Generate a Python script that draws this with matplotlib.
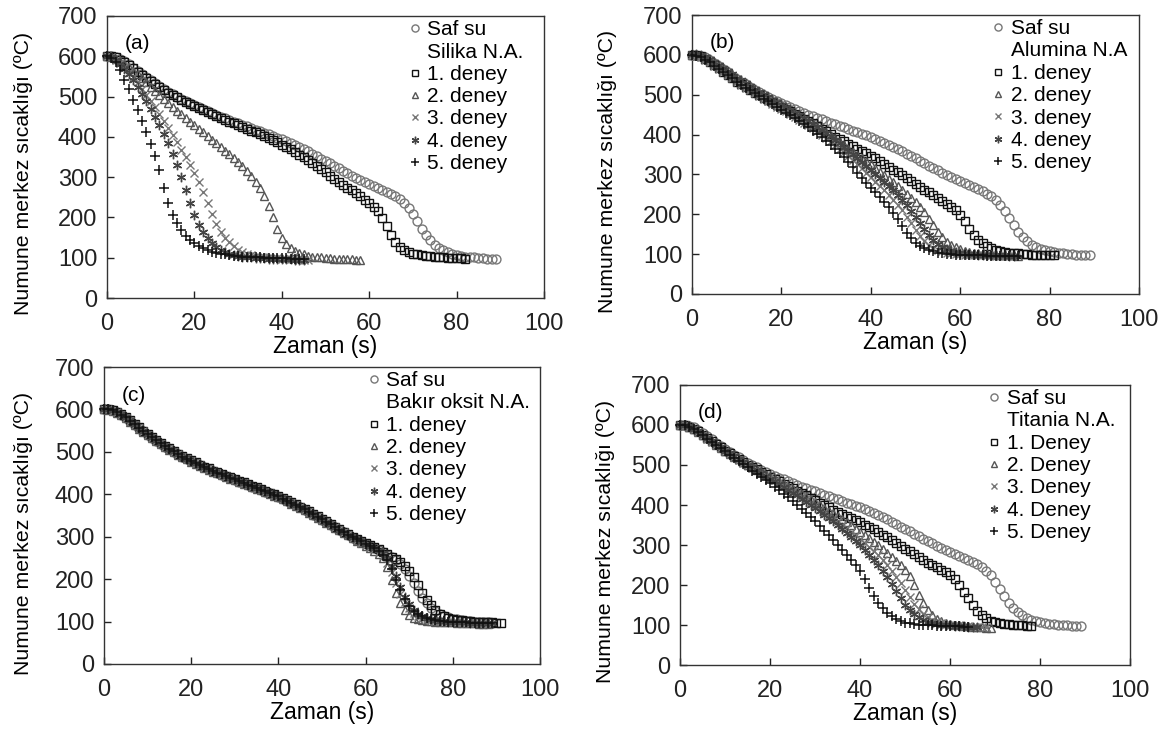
import numpy as np
import matplotlib
matplotlib.use("Agg")
import matplotlib.pyplot as plt
from matplotlib.lines import Line2D

plt.rcParams['font.family'] = ['Liberation Sans', 'DejaVu Sans']

# ---------------- data (temperature in degC, one value per second from t=0) ----------------
TIME_STEP = 1.0

SAF_SU = [600,600,598,594,588,580,572,564,556,548,
          540,533,526,519,512,506,500,494,488,483,
          478,473,468,464,459,455,450,446,442,438,
          434,430,426,422,418,414,410,406,402,398,
          394,389,384,379,374,369,364,358,352,346,
          340,334,328,322,316,310,304,298,293,288,
          283,278,273,268,263,258,252,245,236,224,
          208,190,172,156,143,132,124,118,113,110,
          107,105,103,102,101,100,99,98,98,97]

# (a) Silika N.A.
A1 = [600,600,597,592,586,578,570,562,554,546,
      538,531,524,517,510,504,498,492,486,481,
      476,471,466,461,456,452,447,443,438,434,
      429,425,420,415,411,406,401,396,391,386,
      381,375,369,363,356,349,342,335,328,320,
      312,304,296,289,281,274,267,260,252,244,
      236,227,215,198,178,157,139,126,118,113,
      110,108,106,105,104,103,102,101,100,100,
      99,99,98]
A2 = [600,598,594,588,581,573,564,555,545,535,
      525,515,505,495,485,475,465,456,447,438,
      429,420,411,402,393,384,375,366,357,347,
      337,327,316,303,289,272,252,228,200,172,
      150,134,123,116,111,108,105,103,102,101,
      100,99,98,98,97,96,96,95,94]
A3 = [600,598,592,584,574,562,549,535,520,505,
      489,473,457,440,422,404,386,368,349,330,
      310,288,262,236,208,184,165,150,138,128,
      120,114,110,107,105,103,102,101,100,99,
      98,97,96,96,95,95,94]
A4 = [600,597,590,580,568,555,540,524,507,489,
      470,450,429,407,384,358,330,300,268,236,
      206,182,163,148,136,127,120,114,110,107,
      105,103,102,101,100,99,99,98,98,97,
      97,96,96,95,95,95]
A5 = [600,595,585,565,540,520,492,466,440,413,
      382,352,318,272,235,206,185,168,155,145,
      136,129,123,118,115,112,110,108,106,105,
      104,103,102,102,101,101,100,100,100,99,
      99,99,98,98,98,98]

# (b) Alumina N.A
B1 = [600,599,596,590,583,575,566,557,549,541,
      533,526,519,512,505,499,493,487,481,475,
      470,464,458,452,446,440,434,428,421,414,
      408,401,395,389,383,377,371,365,359,353,
      347,340,333,326,319,312,305,298,291,283,
      276,269,262,255,248,241,234,227,219,210,
      198,182,164,148,136,127,120,115,111,108,
      106,104,103,102,101,100,99,99,98,98,
      97,97]
B2 = [600,599,596,591,584,577,569,561,553,545,
      537,529,522,515,508,501,494,487,481,475,
      469,463,457,451,445,439,432,425,418,411,
      404,397,389,381,373,365,357,349,341,333,
      325,316,307,298,289,280,271,262,252,242,
      231,219,205,189,172,156,142,131,123,117,
      112,109,106,104,103,102,101,100,99,98,
      98,97,97,96]
B3 = [600,598,594,588,581,573,565,557,549,541,
      533,525,518,511,504,497,490,483,476,470,
      464,458,451,444,437,430,423,416,408,400,
      392,383,374,365,356,346,336,326,315,304,
      293,282,271,260,249,237,224,210,194,177,
      160,145,133,123,116,111,107,104,102,101,
      100,99,99,98,98,97,97,97,96,96,
      96,95,95]
B4 = [602,601,599,595,589,582,575,567,559,551,
      543,536,529,522,515,508,501,494,487,481,
      475,469,462,455,448,441,434,427,420,412,
      404,396,387,378,369,360,351,342,332,322,
      312,302,292,282,271,260,248,236,223,209,
      194,178,162,147,135,125,118,113,109,106,
      104,102,101,100,99,99,98,98,97,97,
      97,96,96]
B5 = [600,598,594,588,581,573,565,557,549,541,
      533,525,518,511,504,497,490,483,476,469,
      462,455,448,441,434,426,418,410,402,393,
      384,374,364,354,343,331,318,304,290,278,
      266,255,244,232,219,204,187,170,154,140,
      129,121,115,110,107,104,102,101,100,99,
      99,98,98,97,97,97,96,96,96,96,
      95,95,95,95]

# (c) Bakir oksit N.A.
C1 = [600,600,599,595,589,582,574,566,558,550,
      542,535,528,521,514,508,502,496,490,485,
      480,475,470,465,461,456,452,448,444,440,
      436,432,428,424,420,416,412,408,404,400,
      396,391,386,381,376,371,366,360,354,348,
      342,336,330,324,318,312,306,300,295,290,
      285,280,275,270,265,260,253,247,240,232,
      220,204,186,168,152,138,127,119,113,109,
      106,104,103,102,101,100,99,99,98,98,
      97,97]
C2 = [600,599,597,592,586,579,571,563,555,547,
      539,532,525,518,511,505,499,493,487,482,
      477,472,467,462,458,453,449,445,441,437,
      433,429,425,421,417,413,409,405,401,397,
      393,388,383,378,373,368,363,357,351,345,
      339,333,327,321,315,309,303,297,291,285,
      279,273,267,260,249,228,198,168,144,127,
      116,109,105,103,102,101,100,99,99,98,
      98,97,97,96,96,96,95,95,95]
C3 = [600,600,597,593,587,580,572,564,556,548,
      540,533,526,519,512,506,500,494,488,483,
      478,473,468,463,459,454,450,446,442,438,
      434,430,426,422,418,414,410,406,402,398,
      394,389,384,379,374,369,364,358,352,346,
      340,334,328,322,316,310,304,298,292,286,
      281,276,270,263,254,239,216,190,166,146,
      131,121,114,109,106,104,102,101,100,99,
      99,98,98,97,97,96,96,96,95]
C4 = [601,601,599,595,589,582,574,566,557,549,
      541,534,527,520,513,507,501,495,489,484,
      479,474,469,464,460,455,451,447,443,439,
      435,431,427,423,419,415,411,407,403,399,
      395,390,385,380,375,370,365,359,353,347,
      341,335,329,323,317,311,305,299,294,289,
      284,279,274,268,261,250,232,207,181,159,
      141,128,119,113,109,106,104,102,101,100,
      99,99,98,98,97,97,97,96,96,96]
C5 = [600,600,598,594,588,581,573,565,557,549,
      541,534,527,520,513,507,501,495,489,484,
      479,474,469,464,460,455,451,447,443,439,
      435,431,427,423,419,415,411,407,403,399,
      395,390,385,380,375,370,365,359,353,347,
      341,335,329,323,317,311,305,299,294,289,
      284,279,273,266,257,244,224,199,174,153,
      137,125,117,112,108,105,103,102,101,100,
      99,99,98,98,97,97,97,96,96,96]

# (d) Titania N.A.
D1 = [600,599,596,591,584,576,568,560,552,544,
      536,529,522,515,508,501,495,489,483,477,
      471,465,459,453,447,442,436,430,424,418,
      412,406,400,394,388,382,377,372,367,362,
      357,351,345,339,333,326,319,312,305,298,
      291,284,277,270,263,256,250,244,238,232,
      225,214,199,183,167,150,136,125,117,111,
      107,105,103,102,101,100,99,98,97]
D2 = [600,599,596,590,583,575,567,559,551,543,
      535,528,521,514,507,500,494,488,482,476,
      470,464,458,452,446,440,434,428,421,414,
      407,400,393,386,379,372,365,357,349,341,
      333,325,317,308,299,290,281,271,261,250,
      238,222,200,176,155,138,125,116,110,106,
      103,101,99,98,97,96,95,94,93,92]
D3 = [600,599,595,589,582,574,566,558,550,542,
      534,527,520,513,506,499,493,487,481,475,
      469,463,457,450,443,436,429,422,415,407,
      399,391,383,375,367,359,351,342,333,324,
      315,305,295,285,274,262,249,235,220,204,
      187,170,153,139,128,119,113,108,105,103,
      101,100,99,98,97,96,96,95,95]
D4 = [601,600,597,591,584,576,568,560,552,544,
      536,529,522,515,508,501,494,487,480,473,
      466,459,452,445,438,431,424,416,408,400,
      392,384,376,368,359,350,341,331,321,310,
      299,288,276,263,250,236,220,203,185,167,
      151,138,127,119,113,108,105,103,101,100,
      99,98,97,97,96,96,96]
D5 = [600,599,595,589,582,574,566,558,550,542,
      534,526,518,510,502,494,486,478,470,462,
      454,446,437,428,419,410,400,390,380,370,
      360,348,336,324,312,300,288,275,262,249,
      234,214,193,173,156,142,131,122,115,110,
      106,104,102,101,100,99,99,98,98,97,
      97,97,97,96,96]

PANEL_LETTERS = ["(a)", "(b)", "(c)", "(d)"]
NANO_NAMES = ["Silika N.A.", "Alumina N.A", "Bakır oksit N.A.", "Titania N.A."]
RUN_LABELS_LOWER = ["1. deney", "2. deney", "3. deney", "4. deney", "5. deney"]
RUN_LABELS_UPPER = ["1. Deney", "2. Deney", "3. Deney", "4. Deney", "5. Deney"]
X_TICKS = [0, 20, 40, 60, 80, 100]
Y_TICKS = [0, 100, 200, 300, 400, 500, 600, 700]
X_LABEL = "Zaman (s)"
Y_LABEL = "Numune merkez sıcaklığı (ºC)"

panels = [
    dict(runs=[A1, A2, A3, A4, A5], labels=RUN_LABELS_LOWER),
    dict(runs=[B1, B2, B3, B4, B5], labels=RUN_LABELS_LOWER),
    dict(runs=[C1, C2, C3, C4, C5], labels=RUN_LABELS_LOWER),
    dict(runs=[D1, D2, D3, D4, D5], labels=RUN_LABELS_UPPER),
]

# ---------------- styling ----------------
W, H = 1170, 733
rects_px = [  # left, top, right, bottom in pixels
    (107, 16, 544, 298),
    (692, 15, 1139, 294),
    (104, 367, 540, 664),
    (680, 385, 1130, 665),
]
legend_x = [0.68, 0.662, 0.595, 0.675]
ylabel_x = [-0.17, -0.168, -0.163, -0.145]

SAF_STYLE = dict(marker='o', mec='#777777', mfc='none', ms=6.4, mew=1.0)
RUN_STYLES = [
    dict(marker='s', mec='#111111', mfc='none', ms=5.8, mew=1.0),
    dict(marker='^', mec='#555555', mfc='none', ms=5.8, mew=1.0),
    dict(marker='x', mec='#777777', mfc='none', ms=6.2, mew=1.0),
    dict(marker=(6, 2, 0), mec='#444444', mfc='none', ms=6.8, mew=1.0),
    dict(marker='+', mec='#111111', mfc='none', ms=6.8, mew=1.1),
]

TICK_FS = 17
XLABEL_FS = 16.5
YLABEL_FS = 15.3
LEG_FS = 15

fig = plt.figure(figsize=(W / 100, H / 100), dpi=100)

for i, p in enumerate(panels):
    l, t, r, b = rects_px[i]
    ax = fig.add_axes([l / W, 1 - b / H, (r - l) / W, (b - t) / H])
    saf_t = np.arange(len(SAF_SU)) * TIME_STEP
    ax.plot(saf_t, SAF_SU, linestyle='none', clip_on=False, zorder=3, **SAF_STYLE)
    for run, st in zip(p['runs'], RUN_STYLES):
        tt = np.arange(len(run)) * TIME_STEP
        ax.plot(tt, run, linestyle='none', clip_on=False, zorder=3, **st)

    ax.set_xlim(0, 100)
    ax.set_ylim(0, 700)
    ax.set_xticks(X_TICKS)
    ax.set_yticks(Y_TICKS)
    ax.tick_params(direction='in', length=5, width=1, labelsize=TICK_FS,
                   colors='#222222')
    ax.tick_params(axis='x', pad=11)
    ax.tick_params(axis='y', pad=7)
    for sp in ax.spines.values():
        sp.set_linewidth(1.0)
        sp.set_color('#333333')
    ax.set_xlabel(X_LABEL, fontsize=XLABEL_FS, labelpad=0)
    ax.set_ylabel(Y_LABEL, fontsize=YLABEL_FS)
    ax.yaxis.set_label_coords(ylabel_x[i], 0.44)
    ax.text(0.04, 0.935, PANEL_LETTERS[i], transform=ax.transAxes,
            fontsize=LEG_FS, va='top', ha='left')

    handles = [Line2D([], [], linestyle='none', **SAF_STYLE),
               Line2D([], [], linestyle='none', marker='None')]
    handles += [Line2D([], [], linestyle='none', **st) for st in RUN_STYLES]
    labels = ["Saf su", NANO_NAMES[i]] + p['labels']
    ax.legend(handles, labels, loc='upper left', bbox_to_anchor=(legend_x[i], 1.0),
              frameon=False, fontsize=LEG_FS, handlelength=0.6, handletextpad=0.3,
              labelspacing=0.16, borderpad=0.2, borderaxespad=0.0, markerscale=0.8)

fig.savefig("out.png", dpi=100)
